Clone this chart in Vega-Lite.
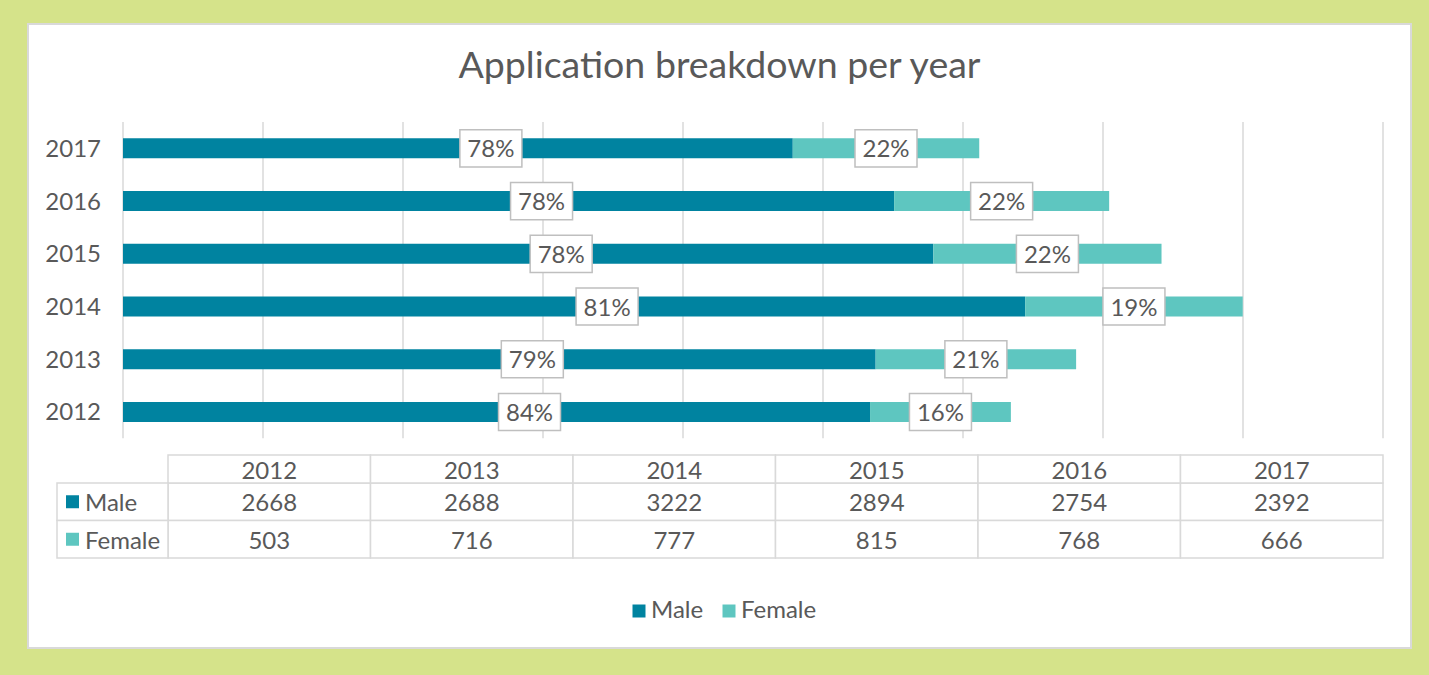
{
  "$schema": "https://vega.github.io/schema/vega-lite/v6.json",
  "width": 1383,
  "height": 624,
  "autosize": "none",
  "padding": {"left": 28, "top": 24, "right": 18, "bottom": 27},
  "background": "#d5e38a",
  "title": {"text": "Application breakdown per year", "fontSize": 37.5, "font": "Lato", "fontWeight": "normal", "color": "#595959", "anchor": "middle", "frame": "group", "offset": -91, "baseline": "alphabetic"},
  "datasets": {
    "apps": [
      {"year": 2012, "gender": "Male", "count": 2668, "pct": "84%"},
      {"year": 2012, "gender": "Female", "count": 503, "pct": "16%"},
      {"year": 2013, "gender": "Male", "count": 2688, "pct": "79%"},
      {"year": 2013, "gender": "Female", "count": 716, "pct": "21%"},
      {"year": 2014, "gender": "Male", "count": 3222, "pct": "81%"},
      {"year": 2014, "gender": "Female", "count": 777, "pct": "19%"},
      {"year": 2015, "gender": "Male", "count": 2894, "pct": "78%"},
      {"year": 2015, "gender": "Female", "count": 815, "pct": "22%"},
      {"year": 2016, "gender": "Male", "count": 2754, "pct": "78%"},
      {"year": 2016, "gender": "Female", "count": 768, "pct": "22%"},
      {"year": 2017, "gender": "Male", "count": 2392, "pct": "78%"},
      {"year": 2017, "gender": "Female", "count": 666, "pct": "22%"}
    ],
    "grid": [
      {"v": 0}, {"v": 500}, {"v": 1000}, {"v": 1500}, {"v": 2000},
      {"v": 2500}, {"v": 3000}, {"v": 3500}, {"v": 4000}, {"v": 4500}
    ]
  },
  "resolve": {"scale": {"x": "independent", "y": "independent"}},
  "layer": [
    {
      "layer": [
        {
          "data": {"name": "grid"},
          "mark": {"type": "rule", "color": "#d9d9d9", "strokeWidth": 1.5},
          "encoding": {
            "x": {"field": "v", "type": "quantitative", "axis": null, "scale": {"domain": [-339.3, 4600], "nice": false, "zero": false, "padding": 0}},
            "y": {"datum": 2017.5, "type": "quantitative", "axis": null, "scale": {"domain": [2007.525, 2019.357], "nice": false, "zero": false, "padding": 0}},
            "y2": {"datum": 2011.5}
          }
        },
        {
          "data": {"name": "apps"},
          "mark": {"type": "bar", "orient": "horizontal", "size": 20},
          "encoding": {
            "y": {"field": "year", "type": "quantitative", "axis": null},
            "x": {"field": "count", "type": "quantitative", "stack": "zero", "axis": null},
            "color": {"field": "gender", "type": "nominal", "scale": {"domain": ["Male", "Female"], "range": ["#0083a0", "#5ec6c0"]},
              "legend": {"orient": "none", "legendX": 599, "legendY": 575, "direction": "horizontal", "title": null, "symbolType": "square", "symbolSize": 169, "symbolStrokeWidth": 0, "labelFontSize": 24, "labelColor": "#595959", "labelFont": "Lato", "labelOffset": 0, "columnPadding": 13}},
            "order": {"field": "gender", "sort": "descending"}
          }
        },
        {
          "data": {"name": "apps"},
          "transform": [{"filter": "datum.gender === 'Male'"}],
          "mark": {"type": "text", "fontSize": 24, "color": "#595959", "align": "right", "baseline": "middle", "dy": 1.5},
          "encoding": {
            "y": {"field": "year", "type": "quantitative", "axis": null},
            "x": {"datum": -78.6, "type": "quantitative", "axis": null},
            "text": {"field": "year", "type": "ordinal"}
          }
        },
        {
          "data": {"name": "apps"},
          "mark": {"type": "point", "shape": "M-1,-0.6L1,-0.6L1,0.6L-1,0.6Z", "size": 3844, "filled": true, "fill": "white", "stroke": "#bfbfbf", "strokeWidth": 1.5, "xOffset": 33},
          "encoding": {
            "y": {"field": "year", "type": "quantitative", "axis": null},
            "x": {"field": "count", "type": "quantitative", "stack": "zero", "bandPosition": 0.5, "axis": null},
            "detail": {"field": "gender"},
            "order": {"field": "gender", "sort": "descending"},
            "opacity": {"condition": {"test": "datum.gender === 'Male'", "value": 1}, "value": 0}
          }
        },
        {
          "data": {"name": "apps"},
          "mark": {"type": "text", "fontSize": 24, "color": "#595959", "xOffset": 33, "align": "center", "baseline": "middle", "dy": 2},
          "encoding": {
            "y": {"field": "year", "type": "quantitative", "axis": null},
            "x": {"field": "count", "type": "quantitative", "stack": "zero", "bandPosition": 0.5, "axis": null},
            "detail": {"field": "gender"},
            "order": {"field": "gender", "sort": "descending"},
            "text": {"field": "pct"},
            "opacity": {"condition": {"test": "datum.gender === 'Male'", "value": 1}, "value": 0}
          }
        },
        {
          "data": {"name": "apps"},
          "mark": {"type": "point", "shape": "M-1,-0.6L1,-0.6L1,0.6L-1,0.6Z", "size": 3844, "filled": true, "fill": "white", "stroke": "#bfbfbf", "strokeWidth": 1.5},
          "encoding": {
            "y": {"field": "year", "type": "quantitative", "axis": null},
            "x": {"field": "count", "type": "quantitative", "stack": "zero", "bandPosition": 0.5, "axis": null},
            "detail": {"field": "gender"},
            "order": {"field": "gender", "sort": "descending"},
            "opacity": {"condition": {"test": "datum.gender === 'Female'", "value": 1}, "value": 0}
          }
        },
        {
          "data": {"name": "apps"},
          "mark": {"type": "text", "fontSize": 24, "color": "#595959", "align": "center", "baseline": "middle", "dy": 2},
          "encoding": {
            "y": {"field": "year", "type": "quantitative", "axis": null},
            "x": {"field": "count", "type": "quantitative", "stack": "zero", "bandPosition": 0.5, "axis": null},
            "detail": {"field": "gender"},
            "order": {"field": "gender", "sort": "descending"},
            "text": {"field": "pct"},
            "opacity": {"condition": {"test": "datum.gender === 'Female'", "value": 1}, "value": 0}
          }
        }
      ]
    },
    {
      "layer": [
        {
          "data": {"name": "apps"},
          "mark": {"type": "rect", "width": 202.5, "fill": "white", "stroke": "#d9d9d9", "strokeWidth": 1.5},
          "encoding": {
            "x": {"field": "year", "type": "quantitative", "axis": null, "scale": {"domain": [2010.8086, 2017.6383], "nice": false, "zero": false}},
            "y": {"field": "gender", "type": "nominal", "axis": null, "scale": {"type": "band", "domain": ["Year", "Male", "Female"], "range": [421.5, 534], "paddingInner": 0, "paddingOuter": 0}}
          }
        },
        {
          "data": {"name": "apps"},
          "transform": [{"filter": "datum.gender === 'Male'"}],
          "mark": {"type": "rect", "width": 202.5, "height": 28, "yOffset": 4.75, "fill": "white", "stroke": "#d9d9d9", "strokeWidth": 1.5},
          "encoding": {
            "x": {"field": "year", "type": "quantitative", "axis": null},
            "y": {"datum": "Year", "type": "nominal", "axis": null}
          }
        },
        {
          "data": {"name": "apps"},
          "transform": [{"filter": "datum.year === 2012"}],
          "mark": {"type": "rect", "width": 111, "fill": "white", "stroke": "#d9d9d9", "strokeWidth": 1.5},
          "encoding": {
            "x": {"datum": 2011.2259, "type": "quantitative", "axis": null},
            "y": {"field": "gender", "type": "nominal", "axis": null}
          }
        },
        {
          "data": {"name": "apps"},
          "mark": {"type": "text", "fontSize": 24, "color": "#595959", "align": "center", "baseline": "middle", "dy": 2.5},
          "encoding": {
            "x": {"field": "year", "type": "quantitative", "axis": null},
            "y": {"field": "gender", "type": "nominal", "axis": null},
            "text": {"field": "count", "type": "quantitative", "format": "d"}
          }
        },
        {
          "data": {"name": "apps"},
          "transform": [{"filter": "datum.gender === 'Male'"}],
          "mark": {"type": "text", "fontSize": 24, "color": "#595959", "align": "center", "baseline": "middle", "yOffset": 4.75, "dy": 2.5},
          "encoding": {
            "x": {"field": "year", "type": "quantitative", "axis": null},
            "y": {"datum": "Year", "type": "nominal", "axis": null},
            "text": {"field": "year", "type": "ordinal"}
          }
        },
        {
          "data": {"name": "apps"},
          "transform": [{"filter": "datum.year === 2012"}],
          "mark": {"type": "point", "shape": "square", "size": 169, "filled": true, "opacity": 1},
          "encoding": {
            "x": {"datum": 2011.0284, "type": "quantitative", "axis": null},
            "y": {"field": "gender", "type": "nominal", "axis": null},
            "color": {"field": "gender", "type": "nominal", "legend": null}
          }
        },
        {
          "data": {"name": "apps"},
          "transform": [{"filter": "datum.year === 2012"}],
          "mark": {"type": "text", "fontSize": 24, "color": "#595959", "align": "left", "baseline": "middle", "dy": 2.5},
          "encoding": {
            "x": {"datum": 2011.0901, "type": "quantitative", "axis": null},
            "y": {"field": "gender", "type": "nominal", "axis": null},
            "text": {"field": "gender"}
          }
        }
      ]
    }
  ],
  "config": {
    "font": "Lato",
    "view": {"fill": "white", "stroke": "#d9d9d9", "strokeWidth": 2}
  }
}
